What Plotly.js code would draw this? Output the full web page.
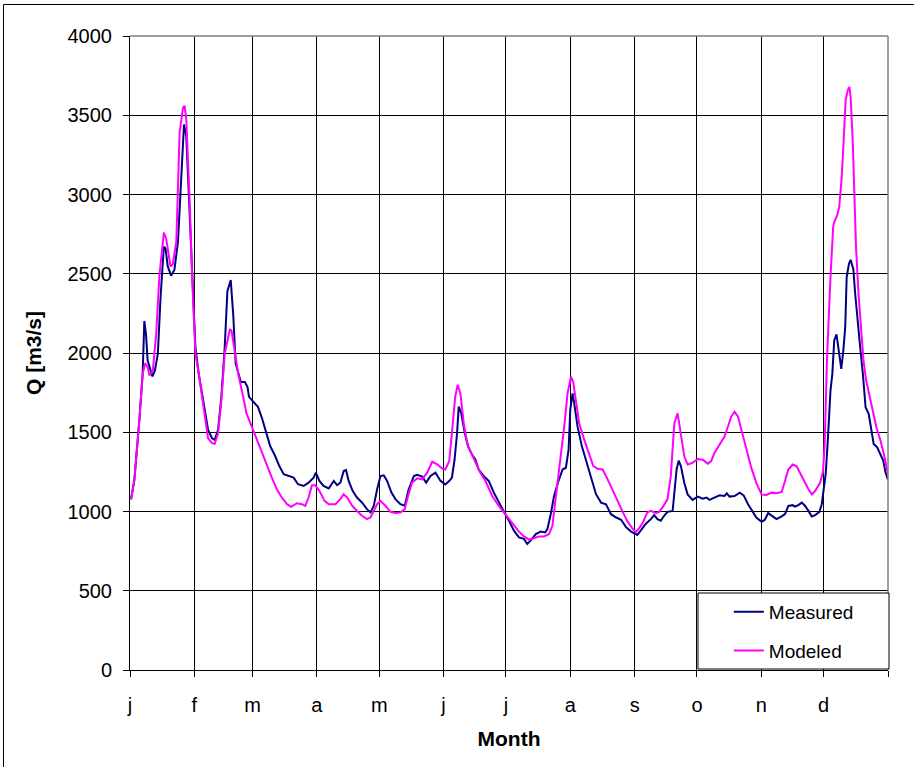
<!DOCTYPE html>
<html>
<head>
<meta charset="utf-8">
<script src="https://cdn.plot.ly/plotly-3.0.1.min.js"></script>
<style>html,body{margin:0;padding:0;background:#fff;}#chart{width:914px;height:767px;}</style>
</head>
<body>
<div id="chart"></div>
<script>
// Month axis
const monthStarts = [0, 31, 59, 90, 120, 151, 181, 212, 243, 273, 304, 334, 365];
const monthLabels = ["j", "f", "m", "a", "m", "j", "j", "a", "s", "o", "n", "d", ""];

// Measured discharge (day of year, Q in m3/s)
const measuredDay = [0.5,2.1,4.5,6.1,6.9,7.7,8.5,9.7,10.8,12,13.4,14.7,16.3,17.1,18.2,19.8,21.4,23.1,24.7,26,27.1,28.7,30.3,31.5,33.1,34.7,36.3,37.6,39.5,40.8,42.4,44,45.6,46.9,48.5,49.7,50.9,52.1,53.4,55.3,56.6,57.3,59.4,61.6,63.5,65.9,67.5,69.9,71.9,74,76.4,78.8,80.9,83.6,86,88.4,89.5,91.2,93.2,95.7,98.1,99.7,101.3,102.9,104,105.3,107.2,109.3,111.7,114.1,115.8,117.4,119,120.6,122.2,123.8,125.9,127.8,130.2,132.3,134.2,136.7,138.3,140.7,142.6,144.7,147.1,149.5,151.8,153.7,155,156.3,157.5,158.3,159.5,161.2,162.8,164.7,166.3,167.9,170.4,172.8,175.2,177.6,180,182.5,184.9,187.3,189.7,191.3,192.9,195.4,197.8,199.9,201,202.6,204.2,206.3,208.3,209.9,211.2,212,213.1,213.9,215.5,217.6,219.5,222,224.4,226.8,229.2,231.6,234.1,236.5,238.9,241.3,243.7,244.3,245.9,248.3,250.8,252.4,254,255.6,257.2,258.8,261.3,262.1,263.2,264.2,265.3,266.9,268.5,270.9,273.4,275.8,277.7,279,281.4,283.9,286.3,287.4,288.7,291.1,293.6,295.5,297.6,299.7,301.6,304.1,305.7,307.3,308.9,311.3,313.8,315.4,317,319.1,320.2,321.8,323.5,325.1,326.7,328.3,329.9,332,333.1,334.2,335,336.1,337.3,338.2,339.1,340.2,341.5,342.5,343.5,344.4,345.1,346.2,347,348.3,349.2,350.3,351.6,352.9,354.2,355.7,356.8,358.1,359.8,361.4,362.7,363.8,365];
const measuredQ = [1077,1200,1577,1869,2202,2119,1952,1890,1852,1890,1994,2348,2671,2660,2546,2488,2525,2702,3119,3442,3369,2890,2369,2035,1869,1744,1619,1515,1462,1452,1515,1723,2035,2390,2460,2244,1931,1869,1817,1817,1785,1723,1692,1660,1591,1476,1413,1350,1287,1235,1224,1214,1172,1161,1182,1214,1245,1193,1161,1145,1193,1166,1182,1256,1262,1193,1130,1088,1057,1015,994,1036,1140,1224,1228,1193,1119,1078,1046,1036,1140,1224,1231,1220,1182,1224,1245,1193,1171,1192,1213,1328,1495,1662,1620,1495,1411,1359,1328,1265,1223,1192,1119,1056,1000,942,879,837,827,795,816,858,873,868,889,983,1098,1192,1265,1276,1390,1641,1745,1683,1537,1411,1328,1203,1109,1056,1046,983,962,948,900,873,854,852,879,921,952,977,952,942,973,998,1004,1140,1265,1321,1285,1181,1108,1073,1094,1081,1088,1073,1088,1102,1098,1115,1094,1098,1119,1102,1046,998,962,935,948,990,977,952,969,983,1035,1040,1031,1040,1056,1035,1004,969,977,998,1046,1150,1237,1468,1763,1868,2079,2117,1974,1900,2016,2163,2479,2563,2588,2531,2374,2205,2037,1868,1658,1616,1532,1426,1405,1353,1321,1247,1200];

// Modeled discharge (day of year, Q in m3/s)
const modeledDay = [0.5,2.1,4.5,6.1,7.3,8.5,9.4,11,12.6,14.2,16.3,17.4,19.5,20.6,22.3,23.9,25.5,26.3,27.1,28.7,30,31.5,33.1,34.7,36.3,37.6,39.5,40.8,42.4,44,45.6,48.1,48.9,50.5,52.1,54.5,56.1,58.5,61,63.5,65.9,68.3,70.7,73.1,75.6,77.6,80.4,82.8,84.4,86,87.6,89.2,91.2,93.7,95.7,98.9,101.3,102.9,104.6,107,109.3,111.7,114.1,115.8,117.4,119,120.6,123,125.4,127.8,130.2,132.3,133.9,135.8,138.3,140.7,143.1,145.5,147.9,150.5,151.8,153.7,155,156.6,157.8,159.1,160.7,162.3,163.9,166.3,168.7,171.2,174.4,177.6,180,182.5,184.9,187.3,189.7,192.1,194.5,196.9,199.4,201.8,203.4,205,207,209.1,210.7,212.3,213.4,214.7,216.3,218.7,221.1,223.1,225.2,227.6,230,232.4,234.8,237,239.4,241.9,243.5,245.1,247,249.1,250.8,253.2,254.8,256.7,258.8,260.4,262.1,263.7,265.3,266.9,268.5,270.6,273.4,275.8,278.2,279.8,281.4,283.9,286.3,287.9,289.5,291.1,292.8,294.4,296.8,299.2,301.6,304.1,306.5,308.9,311.3,313.8,315.4,317,319.1,321,322.6,324.6,326.7,328.3,329.9,332.3,333.7,334.5,335.6,337.3,338.6,339.1,340.5,341.5,342.6,343.5,344.6,345.6,346.4,347,348,348.8,349.6,350.8,351.9,353.2,354.5,356.2,357.8,359.4,361.4,363,365];
const modeledQ = [1077,1200,1577,1869,1935,1910,1858,1890,2119,2494,2760,2723,2546,2560,2702,3390,3546,3560,3473,2973,2452,1994,1869,1723,1556,1462,1431,1427,1494,1702,1994,2150,2140,1994,1869,1723,1619,1540,1455,1371,1287,1214,1140,1088,1046,1029,1052,1046,1036,1088,1166,1166,1130,1067,1046,1046,1078,1109,1088,1036,1004,973,952,962,1004,1046,1067,1036,998,990,994,1015,1099,1182,1210,1203,1245,1314,1298,1269,1265,1317,1495,1725,1800,1745,1557,1432,1380,1317,1244,1192,1098,1035,994,952,914,873,843,823,831,843,843,858,910,1077,1286,1537,1745,1850,1818,1704,1557,1453,1359,1286,1269,1265,1203,1129,1067,1004,942,894,869,894,931,994,1004,990,998,1031,1077,1223,1556,1619,1494,1348,1296,1306,1331,1327,1302,1317,1369,1421,1473,1535,1598,1629,1598,1515,1390,1275,1181,1108,1104,1119,1115,1123,1192,1265,1296,1285,1244,1192,1140,1108,1129,1181,1250,1426,1953,2479,2795,2826,2868,2921,3089,3300,3595,3658,3679,3616,3342,3005,2668,2374,2163,1953,1826,1721,1616,1532,1447,1363,1237];

const FONT = "Liberation Sans, Arial, sans-serif";

const traces = [
  {x: measuredDay, y: measuredQ, type: "scatter", mode: "lines", name: "Measured",
   line: {color: "#000080", width: 2}, legendgroup: "a"},
  {x: modeledDay, y: modeledQ, type: "scatter", mode: "lines", name: "Modeled",
   line: {color: "#FF00FF", width: 2}, legendgroup: "b"}
];

const layout = {
  width: 914, height: 767,
  margin: {l: 130, r: 26, t: 36, b: 97},
  paper_bgcolor: "#fff", plot_bgcolor: "#fff",
  font: {family: FONT, color: "#000", size: 20},
  showlegend: true,
  legend: {
    x: 0.79, xanchor: "left", y: 0.0, yanchor: "bottom",
    bgcolor: "rgba(0,0,0,0)", borderwidth: 0,
    font: {family: FONT, size: 19, color: "#000"},
    traceorder: "grouped", tracegroupgap: 11
  },
  xaxis: {
    range: [0, 365], tickmode: "array", tickvals: monthStarts, ticktext: monthLabels,
    showgrid: true, gridcolor: "#000", gridwidth: 1,
    showline: true, linecolor: "#000", linewidth: 1,
    ticks: "outside", ticklen: 6, tickcolor: "#000", tickwidth: 1,
    ticklabelstandoff: 11,
    zeroline: false, fixedrange: true,
    tickfont: {family: FONT, size: 20, color: "#000"},
    title: {text: "Month", font: {family: FONT, size: 21, color: "#000", weight: "bold"}, standoff: 16}
  },
  yaxis: {
    range: [0, 4000], dtick: 500, tick0: 0,
    showgrid: true, gridcolor: "#000", gridwidth: 1,
    showline: true, linecolor: "#000", linewidth: 1,
    ticks: "outside", ticklen: 6, tickcolor: "#000", tickwidth: 1,
    ticklabelstandoff: 7,
    zeroline: false, fixedrange: true,
    tickfont: {family: FONT, size: 20, color: "#000"},
    title: {text: "Q [m3/s]", font: {family: FONT, size: 21, color: "#000", weight: "bold"}, standoff: 20}
  },
  shapes: [
    // grey top and right border of the plot area
    {type: "line", xref: "paper", yref: "paper", x0: 0, x1: 1, y0: 1, y1: 1, line: {color: "#808080", width: 1.5}, layer: "above"},
    {type: "line", xref: "paper", yref: "paper", x0: 1, x1: 1, y0: 0, y1: 1, line: {color: "#808080", width: 1.5}, layer: "above"},
    // legend box
    {type: "rect", xref: "paper", yref: "paper", x0: (698-130)/758, x1: (889-130)/758, y0: (670-669)/634, y1: (670-593)/634,
     fillcolor: "#fff", line: {color: "#000", width: 1}, layer: "above"},
    // outer chart frame
    {type: "rect", xref: "paper", yref: "paper", x0: (3.5-130)/758, x1: (940-130)/758, y0: (670-790)/634, y1: (670-4.5)/634,
     fillcolor: "rgba(0,0,0,0)", line: {color: "#000", width: 1}, layer: "above"}
  ]
};

Plotly.newPlot("chart", traces, layout, {displayModeBar: false, staticPlot: true});
</script>
</body>
</html>
